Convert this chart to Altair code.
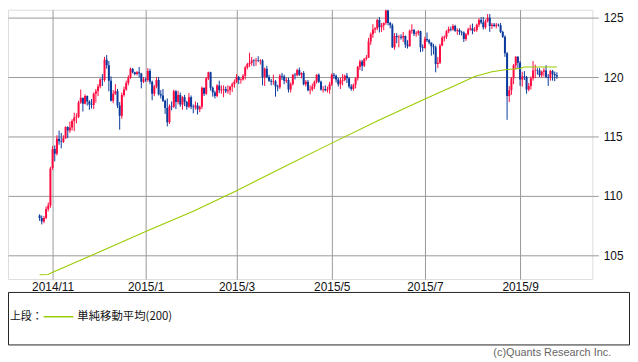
import altair as alt
import pandas as pd

# ---- data (USD/JPY daily candles, weekday index 0 = 2014-10-24) ----
OPEN = [108.35,108.15,107.85,108.15,108.90,109.20,112.35,113.95,113.55,114.80,
        114.60,114.55,114.85,115.80,115.50,115.75,116.30,116.60,116.65,117.85,
        118.25,117.75,118.40,117.95,117.70,117.65,118.60,118.80,119.20,119.80,
        119.75,121.45,121.00,119.70,118.00,118.60,118.80,117.60,116.75,118.50,
        118.95,119.50,119.95,120.70,120.40,120.25,120.40,120.30,119.60,119.80,
        119.75,120.50,119.60,118.60,119.20,119.75,118.55,118.45,118.00,117.40,
        116.20,117.55,117.50,118.80,117.90,118.50,117.70,118.30,117.90,117.50,
        118.30,117.50,117.45,117.60,117.30,117.50,119.10,118.60,119.90,120.40,
        119.10,118.70,118.40,119.30,118.90,118.95,119.00,118.80,118.90,119.20,
        119.40,119.60,120.00,119.75,119.80,120.10,120.80,121.10,121.20,121.40,
        121.35,121.40,121.35,121.40,120.00,120.70,120.00,119.70,119.60,119.65,
        119.20,119.15,120.10,120.05,119.70,119.75,118.95,119.40,120.20,120.15,
        120.60,120.20,120.35,119.40,119.60,118.90,118.95,119.20,119.60,120.20,
        119.60,118.95,119.00,118.90,118.95,119.40,120.20,120.10,119.80,119.40,
        119.70,119.75,120.10,119.90,119.20,119.00,119.35,119.90,120.85,121.30,
        120.95,121.55,121.65,123.00,123.60,124.00,124.10,124.80,124.20,124.35,
        124.55,125.60,124.55,124.35,122.50,123.45,123.35,123.40,123.30,123.45,
        122.75,122.60,123.90,123.95,123.65,123.70,123.85,122.50,122.45,123.20,
        123.10,122.90,122.60,122.50,121.10,121.20,122.65,123.30,123.40,123.85,
        124.05,124.00,124.30,123.90,123.95,123.80,123.75,123.20,123.60,124.00,
        124.10,123.90,123.95,124.40,124.80,124.60,124.20,124.70,125.00,124.30,
        124.40,124.30,124.40,124.35,123.80,123.40,122.00,118.40,118.90,119.90,
        121.00,121.70,121.20,119.80,120.05,120.00,118.95,119.25,119.90,120.55,
        120.60,120.55,120.15,120.45,120.55,120.00,119.95,120.50,120.25,120.15]
HIGH = [108.45,108.35,108.30,109.10,109.45,112.45,114.20,114.25,115.10,115.50,
        115.30,115.10,115.85,115.85,116.25,116.45,117.00,116.95,118.00,118.95,
        118.25,118.55,118.45,118.05,118.15,118.70,119.00,119.40,119.90,120.25,
        121.70,121.85,121.35,120.05,118.90,119.40,119.00,117.90,118.70,119.20,
        119.70,120.15,120.80,120.75,120.45,120.50,120.85,120.35,120.00,119.95,
        120.75,120.70,119.70,119.35,120.00,120.00,118.90,119.00,118.10,118.20,
        117.70,117.95,118.95,118.90,118.85,118.70,118.40,118.50,118.00,118.65,
        118.45,117.70,117.95,117.85,117.60,119.20,119.10,120.00,120.45,120.45,
        119.20,118.85,119.40,119.70,119.30,119.30,119.20,119.30,119.25,119.55,
        119.80,120.25,120.10,119.90,120.25,120.95,121.20,122.05,121.70,121.50,
        121.60,121.75,121.50,121.50,120.80,120.95,120.20,119.85,120.20,119.75,
        119.35,120.25,120.35,120.20,119.95,119.95,119.55,120.25,120.35,120.70,
        120.80,120.40,120.50,119.75,119.75,119.30,119.45,119.70,120.25,120.30,
        119.70,119.25,119.30,119.20,119.60,120.30,120.35,120.20,119.95,119.95,
        120.25,120.20,120.35,120.00,119.40,119.45,120.00,120.95,121.45,121.45,
        121.60,121.85,123.30,123.75,124.45,124.20,124.90,125.05,124.55,124.60,
        125.86,125.70,124.65,124.50,123.70,123.70,123.55,123.60,123.80,123.50,
        123.10,124.00,124.45,124.05,123.85,123.95,123.90,122.75,123.40,123.75,
        123.20,122.90,122.80,122.65,121.70,122.80,123.45,123.50,123.95,124.25,
        124.25,124.45,124.40,124.10,124.10,123.90,123.85,123.70,124.15,124.40,
        124.50,124.20,124.50,124.95,125.05,125.05,124.85,125.30,125.30,124.55,
        124.55,124.55,124.50,124.55,123.90,123.50,122.10,119.25,120.00,121.10,
        121.75,121.75,121.35,120.45,120.50,120.10,119.50,120.05,121.35,121.05,
        120.75,120.75,120.55,120.75,121.00,120.25,120.60,120.60,120.45,120.40]
LOW = [107.90,107.60,107.70,108.05,108.70,109.00,112.20,112.90,113.40,114.30,
       114.00,114.45,114.80,114.85,115.30,115.50,115.45,116.10,116.55,117.75,
       117.10,117.70,117.60,117.25,117.35,117.30,117.85,118.40,119.05,119.25,
       119.60,120.70,118.80,117.95,117.80,118.50,117.40,115.57,116.50,118.35,
       118.85,119.30,119.85,120.30,120.15,120.15,119.95,119.05,119.50,119.60,
       119.60,119.40,118.05,118.40,119.05,118.45,118.20,117.90,116.90,115.85,
       116.05,117.20,117.40,117.30,117.70,117.50,117.25,117.55,117.25,117.40,
       117.30,116.95,117.25,116.85,117.05,117.30,118.40,118.50,119.75,118.85,
       118.35,118.20,118.30,118.65,118.60,118.30,118.65,118.60,118.50,118.75,
       119.10,119.50,119.40,119.45,119.70,119.80,120.65,120.85,120.95,120.90,
       120.95,121.25,121.05,119.30,119.25,119.90,119.60,119.30,119.35,118.35,
       118.80,119.00,119.75,119.40,119.50,118.70,118.70,119.30,119.80,120.05,
       120.10,119.90,119.30,119.20,118.80,118.55,118.80,119.00,119.45,119.50,
       118.85,118.70,118.80,118.70,118.60,119.25,119.85,119.55,119.20,119.00,
       119.30,119.65,119.50,119.05,118.85,118.85,119.05,119.70,120.60,120.50,
       120.85,121.40,121.60,122.70,123.30,123.70,123.95,123.75,123.80,123.95,
       124.40,124.35,124.10,122.45,122.30,122.85,122.50,123.15,122.95,122.45,
       122.40,122.55,123.65,123.45,123.40,123.50,122.10,122.15,122.40,122.95,
       122.75,121.80,121.90,120.40,120.75,121.10,122.60,123.00,123.20,123.70,
       123.85,123.90,123.80,123.55,123.55,123.50,122.95,123.05,123.50,123.90,
       123.60,123.80,123.80,124.20,124.45,124.00,124.05,124.60,123.80,124.05,
       124.20,124.10,124.25,123.70,123.30,121.70,116.40,117.90,118.50,119.40,
       120.65,120.70,119.25,119.20,119.75,118.60,118.80,118.95,119.70,119.90,
       120.20,120.00,119.95,120.05,119.90,119.25,119.70,119.70,119.65,119.85]
CLOSE = [108.15,107.85,108.15,108.90,109.20,112.30,113.95,113.55,114.80,114.60,
         114.55,114.85,115.80,115.50,115.75,116.30,116.60,116.65,117.85,118.25,
         117.75,118.40,117.95,117.70,117.65,118.60,118.80,119.20,119.80,119.75,
         121.45,121.00,119.70,118.00,118.60,118.80,117.60,116.75,118.50,118.95,
         119.50,119.95,120.70,120.40,120.25,120.40,120.30,119.60,119.80,119.75,
         120.50,119.60,118.60,119.20,119.75,118.55,118.45,118.00,117.40,116.20,
         117.55,117.50,118.80,117.90,118.50,117.70,118.30,117.90,117.50,118.30,
         117.50,117.45,117.60,117.30,117.50,119.10,118.60,119.90,120.40,119.10,
         118.70,118.40,119.30,118.90,118.95,119.00,118.80,118.90,119.20,119.40,
         119.60,120.00,119.75,119.80,120.10,120.80,121.10,121.20,121.40,121.35,
         121.40,121.35,121.40,120.00,120.70,120.00,119.70,119.60,119.65,119.20,
         119.15,120.10,120.05,119.70,119.75,118.95,119.40,120.20,120.15,120.60,
         120.20,120.35,119.40,119.60,118.90,118.95,119.20,119.60,120.20,119.60,
         118.95,119.00,118.90,118.95,119.40,120.20,120.10,119.80,119.40,119.70,
         119.75,120.10,119.90,119.20,119.00,119.35,119.90,120.85,121.30,120.95,
         121.55,121.65,123.00,123.60,124.00,124.10,124.80,124.20,124.35,124.55,
         125.60,124.55,124.35,122.50,123.45,123.35,123.40,123.30,123.45,122.75,
         122.60,123.90,123.95,123.65,123.70,123.85,122.50,122.45,123.20,123.10,
         122.90,122.60,122.50,121.10,121.20,122.65,123.30,123.40,123.85,124.05,
         124.00,124.30,123.90,123.95,123.80,123.75,123.20,123.60,124.00,124.10,
         123.90,123.95,124.40,124.80,124.60,124.20,124.70,125.00,124.30,124.40,
         124.30,124.40,124.35,123.80,123.40,122.00,118.40,118.90,119.90,121.00,
         121.70,121.20,119.80,120.05,120.00,118.95,119.25,119.90,120.55,120.60,
         120.55,120.15,120.45,120.55,120.00,119.95,120.50,120.25,120.15,120.05]

# 200-day simple moving average, read at sample points (weekday index)
MA_IDX = [0, 4, 5, 26, 49, 71, 91, 113, 135, 156, 178, 192, 201, 209, 215, 222, 224, 239]
MA_VAL = [103.36, 103.38, 103.50, 105.15, 107.00, 108.70, 110.44, 112.45, 114.44,
          116.30, 118.15, 119.30, 120.05, 120.45, 120.62, 120.72, 120.85, 120.85]

TICK_IDX = [6, 49, 91, 135, 178, 222]
TICK_LABELS = ["2014/11", "2015/1", "2015/3", "2015/5", "2015/7", "2015/9"]
Y_TICKS = [105, 110, 115, 120, 125]
LEGEND_PREFIX = "上段："
LEGEND_LABEL = "単純移動平均(200)"
COPYRIGHT = "(c)Quants Research Inc."

UP = "#FF0A40"
DOWN = "#0A3A9C"
MA_COLOR = "#99CC00"
GRID = "#999999"
FONT = "Liberation Sans"
CJK = "Noto Sans CJK JP"

n = len(CLOSE)
df = pd.DataFrame({"i": list(range(n)), "o": OPEN, "h": HIGH, "l": LOW, "c": CLOSE})
df["dir"] = ["up" if c >= o else "down" for o, c in zip(OPEN, CLOSE)]
ma = pd.DataFrame({"i": MA_IDX, "v": MA_VAL})

W, H = 590, 272
xs = alt.Scale(domain=[-14.6, 255.4], nice=False, zero=False)
ys = alt.Scale(domain=[103.0, 125.67], nice=False, zero=False)

label_expr = "".join(f"datum.value == {i} ? '{t}' : " for i, t in zip(TICK_IDX, TICK_LABELS)) + "''"

x_axis = alt.Axis(values=TICK_IDX, labelExpr=label_expr, grid=True, gridColor=GRID,
                  gridOpacity=1, domain=False, ticks=False, labelPadding=3,
                  labelFontSize=12, labelColor="#111111", labelFont=FONT, title=None)
y_axis = alt.Axis(orient="right", values=Y_TICKS, grid=True, gridColor=GRID, gridOpacity=1,
                  domain=False, tickColor=GRID, tickSize=6, labelPadding=5,
                  labelFontSize=12, labelColor="#111111", labelFont=FONT, title=None)

color = alt.Color("dir:N", scale=alt.Scale(domain=["up", "down"], range=[UP, DOWN]), legend=None)

base = alt.Chart(df)
wick = base.mark_rule(strokeWidth=1, clip=True).encode(
    x=alt.X("i:Q", scale=xs, axis=x_axis),
    y=alt.Y("l:Q", scale=ys, axis=y_axis),
    y2="h:Q",
    color=color,
)
body = base.mark_rule(strokeWidth=2, clip=True).encode(
    x=alt.X("i:Q", scale=xs, axis=x_axis),
    y=alt.Y("o:Q", scale=ys, axis=y_axis),
    y2="c:Q",
    color=color,
)
ma_line = alt.Chart(ma).mark_line(color=MA_COLOR, strokeWidth=1.1).encode(
    x=alt.X("i:Q", scale=xs, axis=x_axis),
    y=alt.Y("v:Q", scale=ys, axis=y_axis),
)

one = alt.Data(values=[{}])
box = alt.Chart(one).mark_rect(fill="transparent", stroke="#222222", strokeWidth=1).encode(
    x=alt.value(0.5), x2=alt.value(627.5), y=alt.value(285.5), y2=alt.value(338.5)
)
leg_line = alt.Chart(one).mark_rule(color=MA_COLOR, strokeWidth=1.5).encode(
    x=alt.value(36), x2=alt.value(66), y=alt.value(310)
)
leg_prefix = alt.Chart(one).mark_text(text=LEGEND_PREFIX, align="left", baseline="middle",
                                      font=CJK, fontSize=11, color="#111111").encode(
    x=alt.value(2), y=alt.value(310)
)
leg_label = alt.Chart(one).mark_text(text=LEGEND_LABEL, align="left", baseline="middle",
                                     font=CJK, fontSize=11.5, color="#111111").encode(
    x=alt.value(70), y=alt.value(310)
)
copyright_t = alt.Chart(one).mark_text(text=COPYRIGHT, align="right", baseline="middle",
                                       font=FONT, fontSize=11, color="#666666").encode(
    x=alt.value(609), y=alt.value(347)
)

chart = alt.layer(wick, body, ma_line, box, leg_line, leg_prefix, leg_label, copyright_t).properties(
    width=W, height=H, padding=0
).configure_view(stroke=GRID, strokeWidth=1).configure(background="white")

chart.save("out.html", embed_options={"renderer": "svg", "actions": False})
